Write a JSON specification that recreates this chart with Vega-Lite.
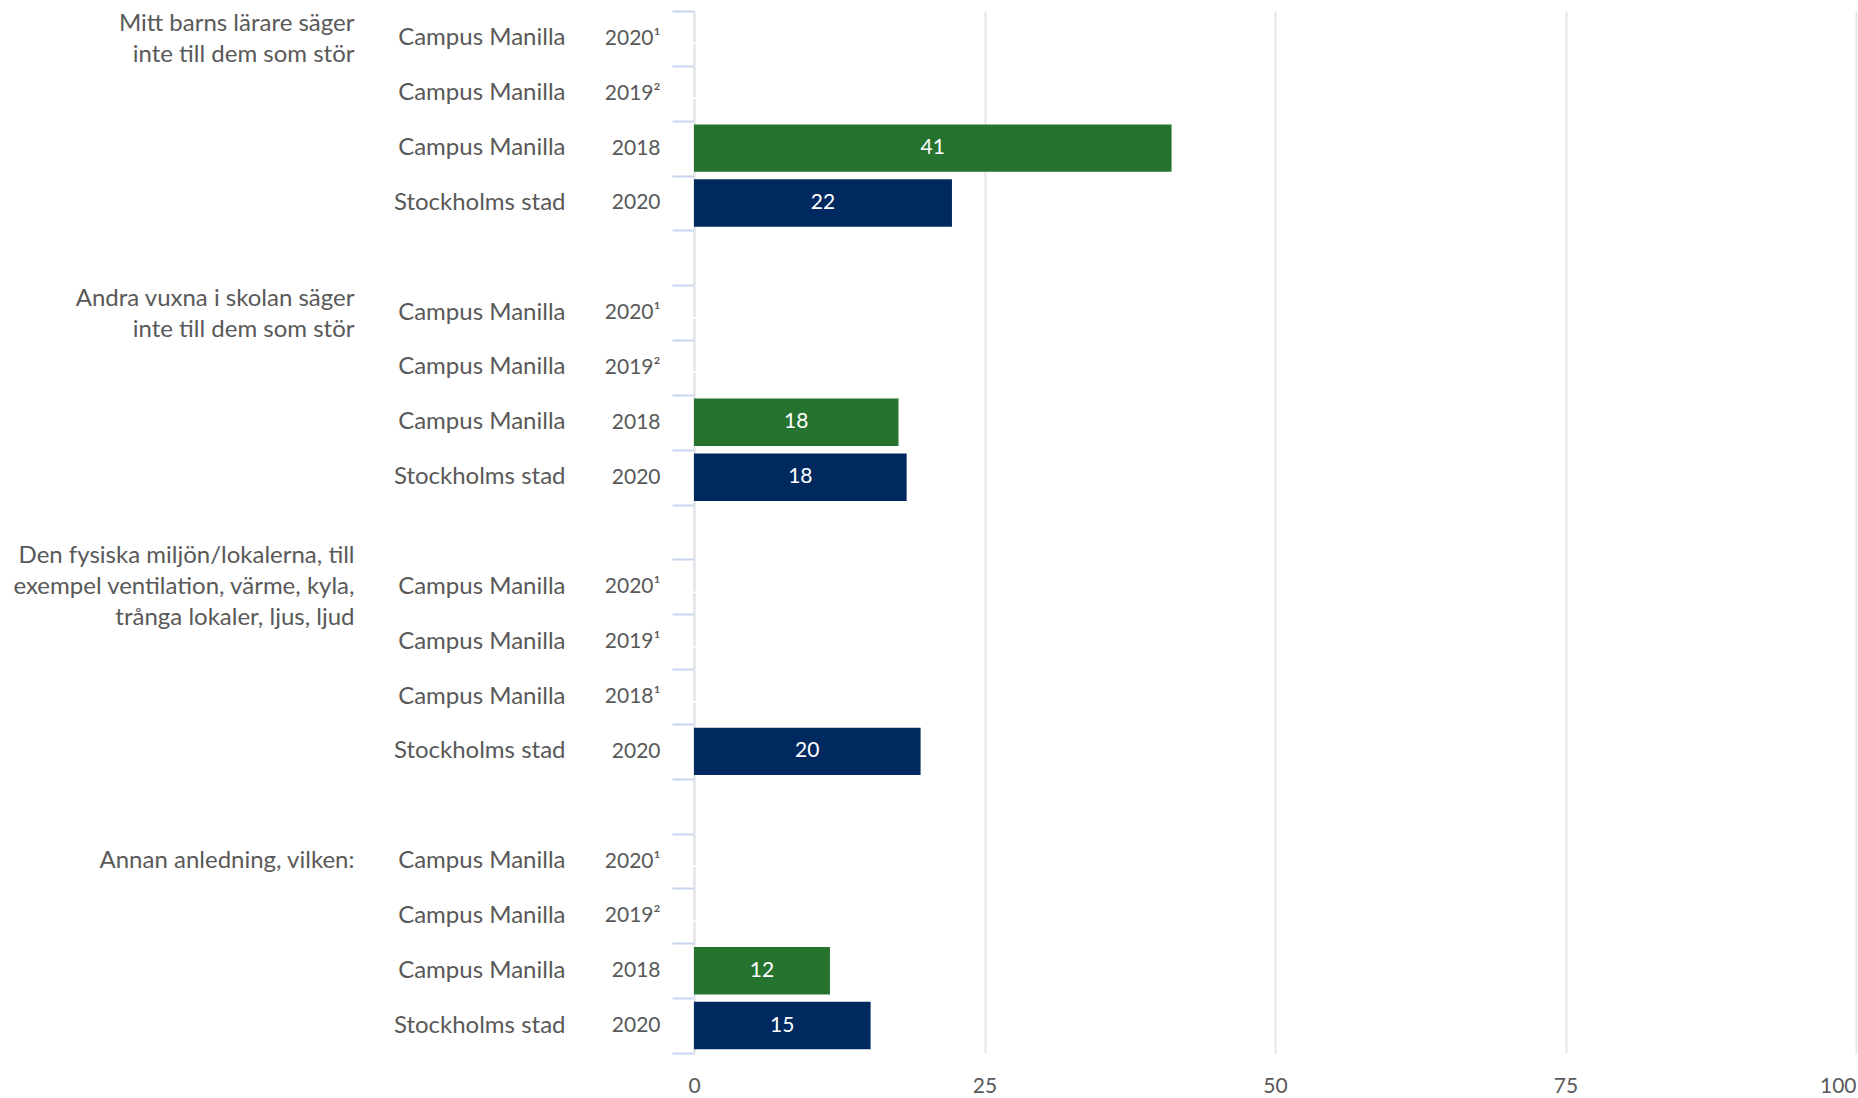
{
  "$schema": "https://vega.github.io/schema/vega-lite/v6.json",
  "autosize": {"type": "none"},
  "width": 1162,
  "height": 1042,
  "padding": {"left": 694, "top": 11, "right": 2, "bottom": 45},
  "background": "white",
  "config": {
    "font": "Lato",
    "view": {"stroke": null}
  },
  "data": {
    "values": [
      {"key": "1|Campus Manilla|2020¹|Mitt barns lärare säger~inte till dem som stör", "site": "Campus Manilla", "value": null},
      {"key": "1|Campus Manilla|2019²|", "site": "Campus Manilla", "value": null},
      {"key": "1|Campus Manilla|2018|", "site": "Campus Manilla", "value": 41.1},
      {"key": "1|Stockholms stad|2020|", "site": "Stockholms stad", "value": 22.2},
      {"key": "2|Campus Manilla|2020¹|Andra vuxna i skolan säger~inte till dem som stör", "site": "Campus Manilla", "value": null},
      {"key": "2|Campus Manilla|2019²|", "site": "Campus Manilla", "value": null},
      {"key": "2|Campus Manilla|2018|", "site": "Campus Manilla", "value": 17.6},
      {"key": "2|Stockholms stad|2020|", "site": "Stockholms stad", "value": 18.3},
      {"key": "3|Campus Manilla|2020¹|Den fysiska miljön/lokalerna, till~exempel ventilation, värme, kyla,~trånga lokaler, ljus, ljud", "site": "Campus Manilla", "value": null},
      {"key": "3|Campus Manilla|2019¹|", "site": "Campus Manilla", "value": null},
      {"key": "3|Campus Manilla|2018¹|", "site": "Campus Manilla", "value": null},
      {"key": "3|Stockholms stad|2020|", "site": "Stockholms stad", "value": 19.5},
      {"key": "4|Campus Manilla|2020¹|Annan anledning, vilken:", "site": "Campus Manilla", "value": null},
      {"key": "4|Campus Manilla|2019²|", "site": "Campus Manilla", "value": null},
      {"key": "4|Campus Manilla|2018|", "site": "Campus Manilla", "value": 11.7},
      {"key": "4|Stockholms stad|2020|", "site": "Stockholms stad", "value": 15.2}
    ]
  },
  "resolve": {"axis": {"y": "independent"}},
  "layer": [
    {
      "mark": {"type": "bar", "height": {"band": 0.865}},
      "encoding": {
        "y": {
          "field": "key",
          "type": "nominal",
          "sort": null,
          "scale": {
            "domain": [
              "1|Campus Manilla|2020¹|Mitt barns lärare säger~inte till dem som stör",
              "1|Campus Manilla|2019²|",
              "1|Campus Manilla|2018|",
              "1|Stockholms stad|2020|",
              "gap1",
              "2|Campus Manilla|2020¹|Andra vuxna i skolan säger~inte till dem som stör",
              "2|Campus Manilla|2019²|",
              "2|Campus Manilla|2018|",
              "2|Stockholms stad|2020|",
              "gap2",
              "3|Campus Manilla|2020¹|Den fysiska miljön/lokalerna, till~exempel ventilation, värme, kyla,~trånga lokaler, ljus, ljud",
              "3|Campus Manilla|2019¹|",
              "3|Campus Manilla|2018¹|",
              "3|Stockholms stad|2020|",
              "gap3",
              "4|Campus Manilla|2020¹|Annan anledning, vilken:",
              "4|Campus Manilla|2019²|",
              "4|Campus Manilla|2018|",
              "4|Stockholms stad|2020|"
            ],
            "paddingInner": 0,
            "paddingOuter": 0
          },
          "axis": {
            "orient": "left",
            "title": null,
            "domain": true,
            "domainColor": "#e3e3ea",
            "domainWidth": 2,
            "ticks": true,
            "tickBand": "extent",
            "tickColor": "#c9d5ee",
            "tickWidth": 2,
            "tickSize": 22,
            "labelPadding": 12,
            "labelFontSize": 21,
            "labelColor": "#595959",
            "labelAlign": "right",
            "labelBaseline": "middle",
            "labelLimit": 0,
            "labelExpr": "isString(datum.value) && indexof(datum.value, '|') >= 0 ? split(datum.value, '|')[2] : ''"
          }
        },
        "x": {
          "field": "value",
          "type": "quantitative",
          "scale": {"domain": [0, 100], "nice": false},
          "axis": {
            "title": null,
            "domain": false,
            "ticks": false,
            "grid": true,
            "gridColor": "#e6e6e6",
            "gridWidth": 2,
            "labelFontSize": 21,
            "labelColor": "#595959",
            "labelPadding": 22,
            "values": [0, 25, 50, 75, 100],
            "labelAlign": {"condition": {"test": "datum.value == 100", "value": "right"}, "value": "center"}
          }
        },
        "color": {
          "field": "site",
          "type": "nominal",
          "scale": {"domain": ["Campus Manilla", "Stockholms stad"], "range": ["#26722F", "#002A5F"]},
          "legend": null
        }
      }
    },
    {
      "transform": [{"calculate": "datum.value / 2", "as": "mid"}],
      "mark": {"type": "text", "color": "white", "fontSize": 21, "align": "center", "baseline": "middle"},
      "encoding": {
        "y": {
          "field": "key",
          "type": "nominal",
          "sort": null,
          "axis": {
            "orient": "left",
            "title": null,
            "domain": false,
            "ticks": false,
            "grid": false,
            "labelPadding": 129,
            "labelFontSize": 24,
            "labelColor": "#595959",
            "labelAlign": "right",
            "labelBaseline": "middle",
            "labelLimit": 0,
            "labelExpr": "isString(datum.value) && indexof(datum.value, '|') >= 0 ? split(datum.value, '|')[1] : ''"
          }
        },
        "x": {"field": "mid", "type": "quantitative"},
        "text": {"field": "value", "type": "quantitative", "format": ".0f"}
      }
    },
    {
      "mark": {"type": "text", "opacity": 0},
      "encoding": {
        "y": {
          "field": "key",
          "type": "nominal",
          "sort": null,
          "axis": {
            "orient": "left",
            "title": null,
            "domain": false,
            "ticks": false,
            "grid": false,
            "labelPadding": 340,
            "labelFontSize": 24,
            "labelColor": "#595959",
            "labelAlign": "right",
            "labelBaseline": "middle",
            "labelLimit": 0,
            "labelLineHeight": 31,
            "labelOffset": {
              "condition": [
                {"test": "isString(datum.value) && length(split(datum.value, '~')) == 3", "value": -31},
                {"test": "isString(datum.value) && length(split(datum.value, '~')) == 2", "value": -14}
              ],
              "value": 0
            },
            "labelExpr": "isString(datum.value) && indexof(datum.value, '|') >= 0 ? split(split(datum.value, '|')[3], '~') : ''"
          }
        },
        "x": {"field": "value", "type": "quantitative"},
        "text": {"value": ""}
      }
    }
  ]
}
